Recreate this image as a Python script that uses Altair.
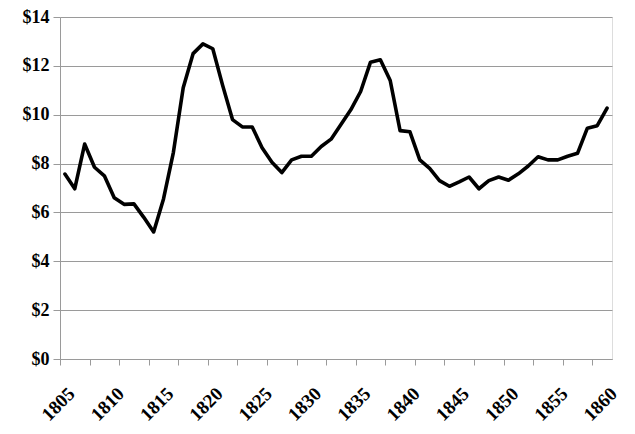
import altair as alt
import pandas as pd

years = list(range(1805, 1861))
prices = [
    7.57, 6.97, 8.8, 7.85, 7.5, 6.6, 6.33, 6.35, 5.8, 5.2,
    6.55, 8.45, 11.1, 12.5, 12.9, 12.7, 11.2, 9.8, 9.5, 9.5,
    8.65, 8.05, 7.63, 8.15, 8.3, 8.3, 8.7, 9.0, 9.6, 10.2,
    10.95, 12.15, 12.25, 11.4, 9.35, 9.3, 8.15, 7.8, 7.3, 7.07,
    7.25, 7.45, 6.97, 7.3, 7.45, 7.32, 7.58, 7.9, 8.28, 8.15,
    8.15, 8.3, 8.42, 9.45, 9.55, 10.27,
]
label_years = list(range(1805, 1861, 5))
tick_positions = [1804.5 + 3 * k for k in range(19)]
y_ticks = list(range(0, 15, 2))

df = pd.DataFrame({"year": years, "price": prices})

FONT = "Liberation Serif"
GRAY = "#9a9a9a"

x_scale = alt.Scale(domain=[1804.5, 1860.5], nice=False, zero=False)
y_scale = alt.Scale(domain=[0, 14], nice=False)

line = alt.Chart(df).mark_line(
    color="black", strokeWidth=3.6, strokeJoin="round", strokeCap="round"
).encode(
    x=alt.X(
        "year:Q",
        scale=x_scale,
        axis=alt.Axis(
            orient="bottom",
            values=label_years,
            format="d",
            title=None,
            grid=False,
            ticks=False,
            domain=True,
            domainColor=GRAY,
            domainWidth=1,
            labelAngle=-45,
            labelAlign="right",
            labelBaseline="top",
            labelFont=FONT,
            labelFontWeight="bold",
            labelFontSize=19,
            labelColor="black",
            labelPadding=25,
            labelOverlap=False,
        ),
    ),
    y=alt.Y(
        "price:Q",
        scale=y_scale,
        axis=alt.Axis(
            values=y_ticks,
            labelExpr="'$' + datum.value",
            title=None,
            grid=True,
            gridColor=GRAY,
            gridWidth=1,
            ticks=True,
            tickSize=7,
            tickColor=GRAY,
            domain=True,
            domainColor=GRAY,
            labelFont=FONT,
            labelFontWeight="bold",
            labelFontSize=18,
            labelColor="black",
            labelPadding=4,
        ),
    ),
)

tick_layer = alt.Chart(df).mark_point(opacity=0).encode(
    x=alt.X(
        "year:Q",
        scale=x_scale,
        axis=alt.Axis(
            orient="bottom",
            values=tick_positions,
            labels=False,
            title=None,
            grid=False,
            ticks=True,
            tickSize=6,
            tickColor=GRAY,
            domain=False,
        ),
    ),
)

chart = (
    alt.layer(line, tick_layer)
    .resolve_axis(x="independent")
    .properties(
        width=552,
        height=342,
        autosize=alt.AutoSizeParams(type="none"),
        padding={"left": 52, "top": 9, "right": 15, "bottom": 66},
    )
    .configure_view(strokeWidth=0)
    .configure(background="white")
)

chart.save("out.html", embed_options={"renderer": "svg", "actions": False})
